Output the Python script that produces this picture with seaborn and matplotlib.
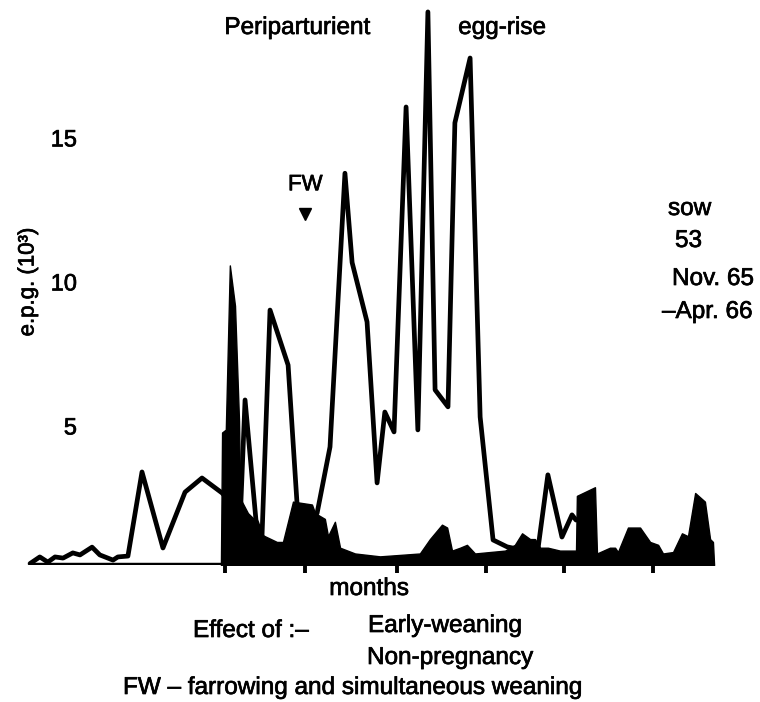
import matplotlib
matplotlib.use("Agg")
import matplotlib.pyplot as plt
import matplotlib.patheffects as pe
import matplotlib.transforms as mtransforms
import pandas as pd
import seaborn as sns

# Faecal egg counts (e.p.g., thousands), sow 53, Nov. 1965 - Apr. 1966.
# Day 0 = start of the first marked month; farrowing at day 28.
line_day = [-67.9, -64.5, -61.7, -59.2, -56.4, -53.0, -50.5, -46.3, -43.6, -39.0,
            -37.3, -33.8, -28.9, -21.6, -13.9, -8.0, -1.0, 5.4, 7.0, 10.8, 12.9,
            15.7, 22.0, 25.1, 28.2, 32.1, 36.6, 41.8, 44.3, 49.5, 53.0,
            55.7, 58.9, 63.1, 67.2, 70.7, 73.2, 77.7, 80.1, 85.4, 88.9,
            93.4, 98.3, 103.5, 109.1, 112.5, 117.4, 120.9, 122.3]
line_epg = [0.05, 0.28, 0.1, 0.28, 0.24, 0.42, 0.35, 0.62, 0.35, 0.17,
            0.28, 0.31, 3.23, 0.59, 2.53, 3.02, 2.5, 1.8, 5.73, 1.56, 0.97,
            8.85, 6.94, 2.15, 1.28, 1.8, 4.1, 13.6, 10.5, 8.44, 2.85,
            5.31, 4.62, 15.9, 4.69, 19.2, 6.08, 5.49, 15.35, 17.6, 5.14,
            0.87, 0.63, 0.52, 0.6, 3.13, 0.97, 1.74, 1.56]

fill_day = [-1.4, -1.0, 0.3, 1.7, 3.5, 4.2, 4.9, 5.2, 5.9, 8.0, 11.1, 12.2, 13.9,
            18.1, 20.2, 23.7, 30.3, 31.4, 34.8, 35.9, 38.3, 40.1, 45.3,
            54.0, 61.0, 67.9, 71.4, 75.6, 77.4, 79.1, 81.9, 84.3, 87.1,
            92.3, 97.6, 101.0, 103.5, 106.3, 108.0, 109.8, 112.5, 116.7, 120.2,
            122.3, 122.6, 128.9, 129.6, 134.1, 135.9, 136.9, 140.4, 144.6, 148.1,
            150.9, 152.6, 156.1, 159.2, 161.3, 163.8, 167.2, 169.0, 170.0, 170.4]
fill_epg = [0.0, 4.6, 4.7, 10.4, 9.0, 7.0, 5.0, 3.0, 2.2, 1.8, 1.5, 1.1, 1.0,
            0.8, 0.8, 2.2, 2.1, 1.8, 1.6, 1.0, 1.5, 0.6, 0.4,
            0.3, 0.35, 0.4, 0.9, 1.4, 1.3, 0.5, 0.6, 0.7, 0.4,
            0.45, 0.5, 0.7, 1.1, 0.9, 0.9, 0.6, 0.6, 0.5, 0.5,
            0.5, 2.4, 2.7, 0.4, 0.6, 0.6, 0.45, 1.3, 1.3, 0.8,
            0.7, 0.4, 0.45, 1.1, 1.0, 2.5, 2.2, 0.9, 0.8, 0.0]

month_ticks = [0, 28, 60, 91, 118, 149]
farrowing_day = 28
y_ticks = [5, 10, 15]
y_tick_labels = ["5", "10", "15"]

line_df = pd.DataFrame({"day": line_day, "epg": line_epg})

sns.set_theme(style="white")
plt.rcParams["font.family"] = ["Liberation Sans", "DejaVu Sans"]
plt.rcParams["text.color"] = "black"
plt.rcParams["axes.labelcolor"] = "black"
plt.rcParams["xtick.color"] = "black"
plt.rcParams["ytick.color"] = "black"

W, H = 760, 702
fig = plt.figure(figsize=(W / 100, H / 100), dpi=100)


def px(x, y):
    return x / W, 1 - y / H


# slightly heavier type
heavy = [pe.withStroke(linewidth=0.5, foreground="black")]

ax_left, ax_right, ax_top, ax_bottom = 20, 725, 5, 565
ax = fig.add_axes([ax_left / W, 1 - ax_bottom / H,
                   (ax_right - ax_left) / W, (ax_bottom - ax_top) / H])
ax.set_xlim(-71.4, 174.2)
ax.set_ylim(0, 19.44)

# open line: periparturient series
sns.lineplot(data=line_df, x="day", y="epg", ax=ax, color="black", lw=3.4,
             estimator=None, sort=False, zorder=2)

# black area: early-weaning / non-pregnancy series
ax.fill_between(fill_day, fill_epg, 0, color="black", lw=1.0, zorder=3)

# heavy base line
ax.hlines(0, line_day[0], fill_day[-1], color="black", lw=3.2, zorder=4)

sns.despine(ax=ax, left=True, bottom=True)
ax.set_xticks(month_ticks)
ax.set_xticklabels([])
ax.tick_params(axis="x", bottom=True, direction="out", length=6, width=2.8,
               color="black")
ax.set_yticks(y_ticks)
ax.set_yticklabels(y_tick_labels)
ax.tick_params(axis="y", left=False, length=0, pad=-41, labelsize=17,
               labelcolor="black")
shift = mtransforms.ScaledTranslation(0, -5 / 100, fig.dpi_scale_trans)
for lab in ax.get_yticklabels():
    lab.set_transform(lab.get_transform() + shift)
    lab.set_path_effects(heavy)
ax.set_xlabel("")
ax.set_ylabel("")
ax.grid(False)

# farrowing marker
ax.plot([farrowing_day], [12.2], marker="v", color="black", markersize=8,
        zorder=5)
ax.text(farrowing_day, 13.2, "FW", ha="center", va="center", fontsize=16,
        path_effects=heavy)

fs = 17.5
texts = [
    ((28, 282), "e.p.g. (10³)", dict(rotation=90, ha="center", va="center", fontsize=16)),
    ((297, 28), "Periparturient", dict(ha="center", va="center", fontsize=fs)),
    ((502, 28), "egg-rise", dict(ha="center", va="center", fontsize=fs)),
    ((668, 215), "sow", dict(ha="left", va="baseline", fontsize=fs)),
    ((675, 247), "53", dict(ha="left", va="baseline", fontsize=fs)),
    ((672, 285), "Nov. 65", dict(ha="left", va="baseline", fontsize=fs)),
    ((662, 318), "\u2013Apr. 66", dict(ha="left", va="baseline", fontsize=fs)),
    ((369, 595), "months", dict(ha="center", va="baseline", fontsize=fs)),
    ((193, 637), "Effect of :\u2013", dict(ha="left", va="baseline", fontsize=fs)),
    ((368, 632), "Early-weaning", dict(ha="left", va="baseline", fontsize=fs)),
    ((367, 664), "Non-pregnancy", dict(ha="left", va="baseline", fontsize=fs)),
    ((352, 694), "FW \u2013 farrowing and simultaneous weaning",
     dict(ha="center", va="baseline", fontsize=fs)),
]
for pos, s, kw in texts:
    fig.text(*px(*pos), s, path_effects=heavy, **kw)

fig.savefig("out.png", dpi=100, facecolor="white")
